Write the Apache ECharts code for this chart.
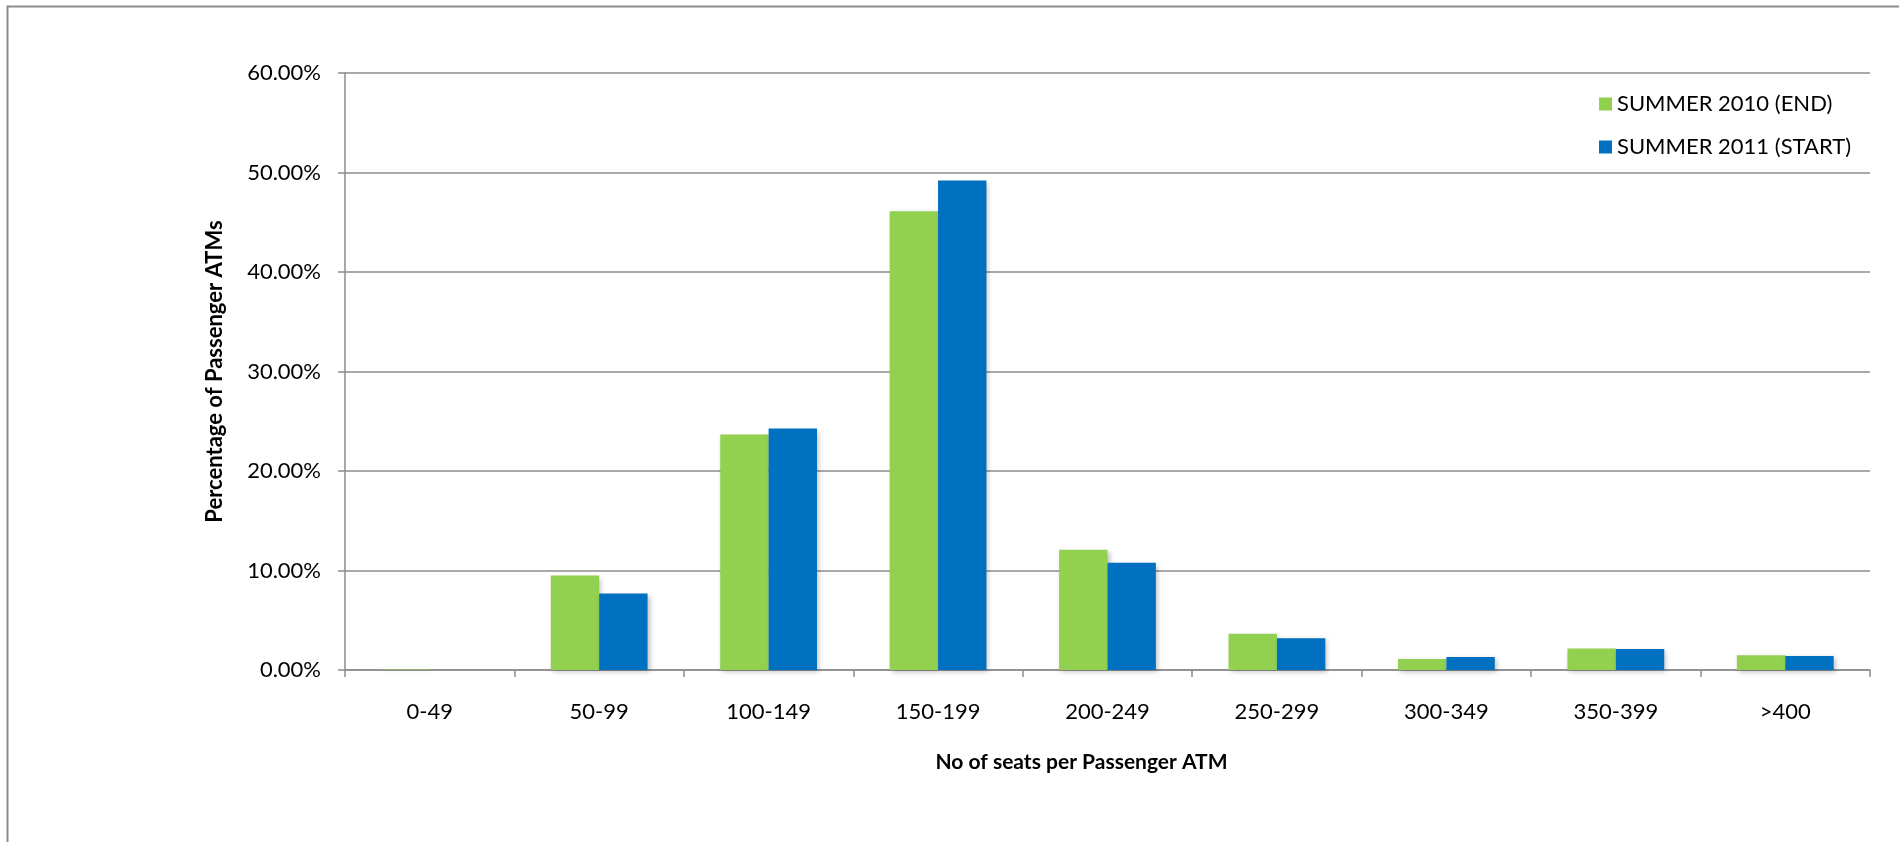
<!DOCTYPE html>
<html>
<head>
<meta charset="utf-8">
<script src="https://cdn.jsdelivr.net/npm/echarts@6/dist/echarts.min.js"></script>
<style>
html,body{margin:0;padding:0;background:#fff;}
#c{width:1899px;height:842px;}
</style>
</head>
<body>
<div id="c"></div>
<script>
const categories = ['0-49','50-99','100-149','150-199','200-249','250-299','300-349','350-399','>400'];
const summer2010End = [0.05, 9.49, 23.66, 46.1, 12.09, 3.64, 1.11, 2.15, 1.48];
const summer2011Start = [0, 7.68, 24.27, 49.19, 10.77, 3.2, 1.31, 2.12, 1.41];
const seriesNames = ['SUMMER 2010 (END)', 'SUMMER 2011 (START)'];
const yTicks = { min: 0, max: 60, interval: 10 };

const FONT = 'Lato';
const chart = echarts.init(document.getElementById('c'));
const barShadow = { shadowBlur: 5, shadowColor: 'rgba(0,0,0,0.25)', shadowOffsetX: 2, shadowOffsetY: 2 };
chart.setOption({
  animation: false,
  backgroundColor: '#fff',
  graphic: [{
    type: 'rect', left: 5, top: 4, z: -1,
    shape: { width: 1920, height: 860 },
    style: { fill: 'none', stroke: '#8c8c8c', lineWidth: 2 }
  }],
  grid: { left: 345, top: 73, width: 1525, height: 597, containLabel: false },
  legend: {
    orient: 'vertical', left: 1594, top: 88,
    itemWidth: 13, itemHeight: 13, itemGap: 21,
    icon: 'rect',
    textStyle: { fontFamily: FONT, fontSize: 22, color: '#000' },
    data: seriesNames
  },
  xAxis: {
    type: 'category', data: categories,
    axisLine: { lineStyle: { color: '#8c8c8c', width: 1.5 } },
    axisTick: { show: true, length: 7, lineStyle: { color: '#8c8c8c', width: 1.5 } },
    axisLabel: { fontFamily: FONT, fontSize: 22, color: '#000', margin: 31 },
    name: 'No of seats per Passenger ATM', nameLocation: 'middle', nameGap: 82,
    nameTextStyle: { fontFamily: FONT, fontSize: 21, fontWeight: 'bold', color: '#000', padding: [0,52,0,0] }
  },
  yAxis: {
    type: 'value', min: yTicks.min, max: yTicks.max, interval: yTicks.interval,
    axisLine: { show: true, lineStyle: { color: '#8c8c8c', width: 1.5 } },
    axisTick: { show: true, length: 7, lineStyle: { color: '#8c8c8c', width: 1.5 } },
    splitLine: { lineStyle: { color: '#8c8c8c', width: 1.5 } },
    axisLabel: { fontFamily: FONT, fontSize: 22, color: '#000', margin: 24,
      formatter: v => v.toFixed(2) + '%' },
    name: 'Percentage of Passenger ATMs', nameLocation: 'middle', nameGap: 119,
    nameTextStyle: { fontFamily: FONT, fontSize: 22, fontWeight: 'bold', color: '#000' }
  },
  series: [
    { name: seriesNames[0], type: 'bar', data: summer2010End, barGap: '0%', barCategoryGap: '42.9%',
      itemStyle: Object.assign({ color: '#92D050' }, barShadow) },
    { name: seriesNames[1], type: 'bar', data: summer2011Start, barGap: '0%', barCategoryGap: '42.9%',
      itemStyle: Object.assign({ color: '#0070C0' }, barShadow) }
  ]
});
</script>
</body>
</html>
